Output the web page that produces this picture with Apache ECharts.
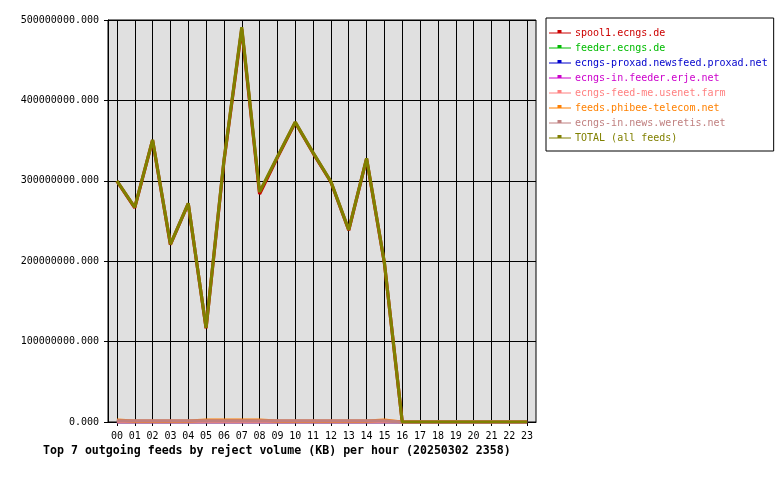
<!DOCTYPE html>
<html><head><meta charset="utf-8">
<script src="https://cdn.jsdelivr.net/npm/echarts@6/dist/echarts.min.js"></script>
<style>html,body{margin:0;padding:0;background:#fff}#c{width:780px;height:480px}</style>
</head><body><div id="c"></div>
<script>
const hours = ['00','01','02','03','04','05','06','07','08','09','10','11','12','13','14','15','16','17','18','19','20','21','22','23'];
const feedNames = ['spool1.ecngs.de','feeder.ecngs.de','ecngs-proxad.newsfeed.proxad.net','ecngs-in.feeder.erje.net','ecngs-feed-me.usenet.farm','feeds.phibee-telecom.net','ecngs-in.news.weretis.net','TOTAL (all feeds)'];
const feedColors = ['#cc0000','#00bb00','#0000cc','#cc00cc','#ff8080','#ff8000','#c08080','#808000'];
// values in KB
const spool1   = [299.5e6,266.5e6,350.5e6,220.5e6,271.5e6,116.5e6,324e6,489e6,283.5e6,329e6,372.5e6,334.5e6,298.5e6,238.5e6,327.5e6,197.5e6,0,0,0,0,0,0,0,0];
const feeder   = [0,0,0,0,0,0,0,0,0,0,0,0,0,0,0,0,0,0,0,0,0,0,0,0];
const proxad   = [0,0,0,0,0,0,0,0,0,0,0,0,0,0,0,0,0,0,0,0,0,0,0,0];
const erje     = [0,0,0,0,0,0,0,0,0,0,0,0,0,0,0,0,0,0,0,0,0,0,0,0];
const feedme   = [0,0,0,0,0,0,0,0,0,0,0,0,0,0,0,0,0,0,0,0,0,0,0,0];
const phibee   = [2.5e6,1.2e6,1.2e6,1.2e6,1.2e6,2.5e6,2.5e6,2.5e6,2.5e6,1.2e6,1.2e6,1.2e6,1.2e6,1.2e6,1.2e6,2.5e6,0,0,0,0,0,0,0,0];
const weretis  = [1.4e6,1.4e6,1.4e6,1.4e6,1.4e6,1.4e6,1.4e6,1.4e6,1.4e6,1.4e6,1.4e6,1.4e6,1.4e6,1.4e6,1.4e6,1.4e6,0,0,0,0,0,0,0,0];
const total    = [300e6,267e6,351e6,221e6,272e6,117e6,325e6,491e6,286e6,330e6,373e6,335e6,299e6,239e6,328e6,198e6,0,0,0,0,0,0,0,0];
const yTicks = [0,100e6,200e6,300e6,400e6,500e6];
const titleText = 'Top 7 outgoing feeds by reject volume (KB) per hour (20250302 2358)';

const seriesData = [spool1, feeder, proxad, erje, feedme, phibee, weretis, total];
const FONT = 'DejaVu Sans Mono';
const icon = 'path://M0,0L0.01,0L0.01,0.01Z M0,12L0.01,12L0.01,11.99Z M0,5.5L22,5.5L22,6.5L0,6.5Z M8.5,3L12.5,3L12.5,5.5L8.5,5.5Z';

const chart = echarts.init(document.getElementById('c'), null, {renderer:'canvas'});
chart.setOption({
  animation: false,
  backgroundColor: '#ffffff',
  title: {
    text: titleText, left: 43, top: 445, padding: 0,
    textStyle: {fontFamily: FONT, fontSize: 11.6, fontWeight: 'bold', color: '#000'}
  },
  legend: {
    orient: 'vertical', left: 546, top: 18,
    padding: [9, 6, 7, 3],
    backgroundColor: '#fff', borderColor: '#000', borderWidth: 1,
    itemWidth: 22, itemHeight: 12, itemGap: 3,
    icon: icon,
    selectedMode: false,
    textStyle: {fontFamily: FONT, fontSize: 10, lineHeight: 12, padding: [0,0,0,-1]},
    data: feedNames.map((n, i) => ({name: n, textStyle: {color: feedColors[i]}}))
  },
  grid: {
    left: 108, right: 244, top: 20, bottom: 58,
    show: true, backgroundColor: '#e0e0e0', borderColor: '#000', borderWidth: 1,
    containLabel: false
  },
  xAxis: {
    type: 'category', data: hours, boundaryGap: true,
    axisLine: {show: true, lineStyle: {color: '#000', width: 1}},
    axisTick: {show: true, alignWithLabel: true, length: 4, lineStyle: {color: '#000'}},
    axisLabel: {fontFamily: FONT, fontSize: 10, color: '#000', margin: 9, interval: 0},
    splitLine: {show: true, alignWithLabel: true, interval: 0, lineStyle: {color: '#000', width: 1}}
  },
  yAxis: {
    type: 'value', min: 0, max: 500e6, interval: 100e6,
    axisLine: {show: true, lineStyle: {color: '#000', width: 1}},
    axisTick: {show: true, length: 4, lineStyle: {color: '#000'}},
    axisLabel: {fontFamily: FONT, fontSize: 10, color: '#000', margin: 9,
      formatter: v => yTicks.includes(v) ? v.toFixed(3) : ''},
    splitLine: {show: true, lineStyle: {color: '#000', width: 1}}
  },
  series: feedNames.map((n, i) => ({
    name: n, type: 'line', data: seriesData[i],
    showSymbol: false, symbol: 'none',
    color: feedColors[i],
    itemStyle: {color: feedColors[i]},
    lineStyle: {color: feedColors[i], width: 3.2},
    z: 2 + i
  }))
});
</script></body></html>
